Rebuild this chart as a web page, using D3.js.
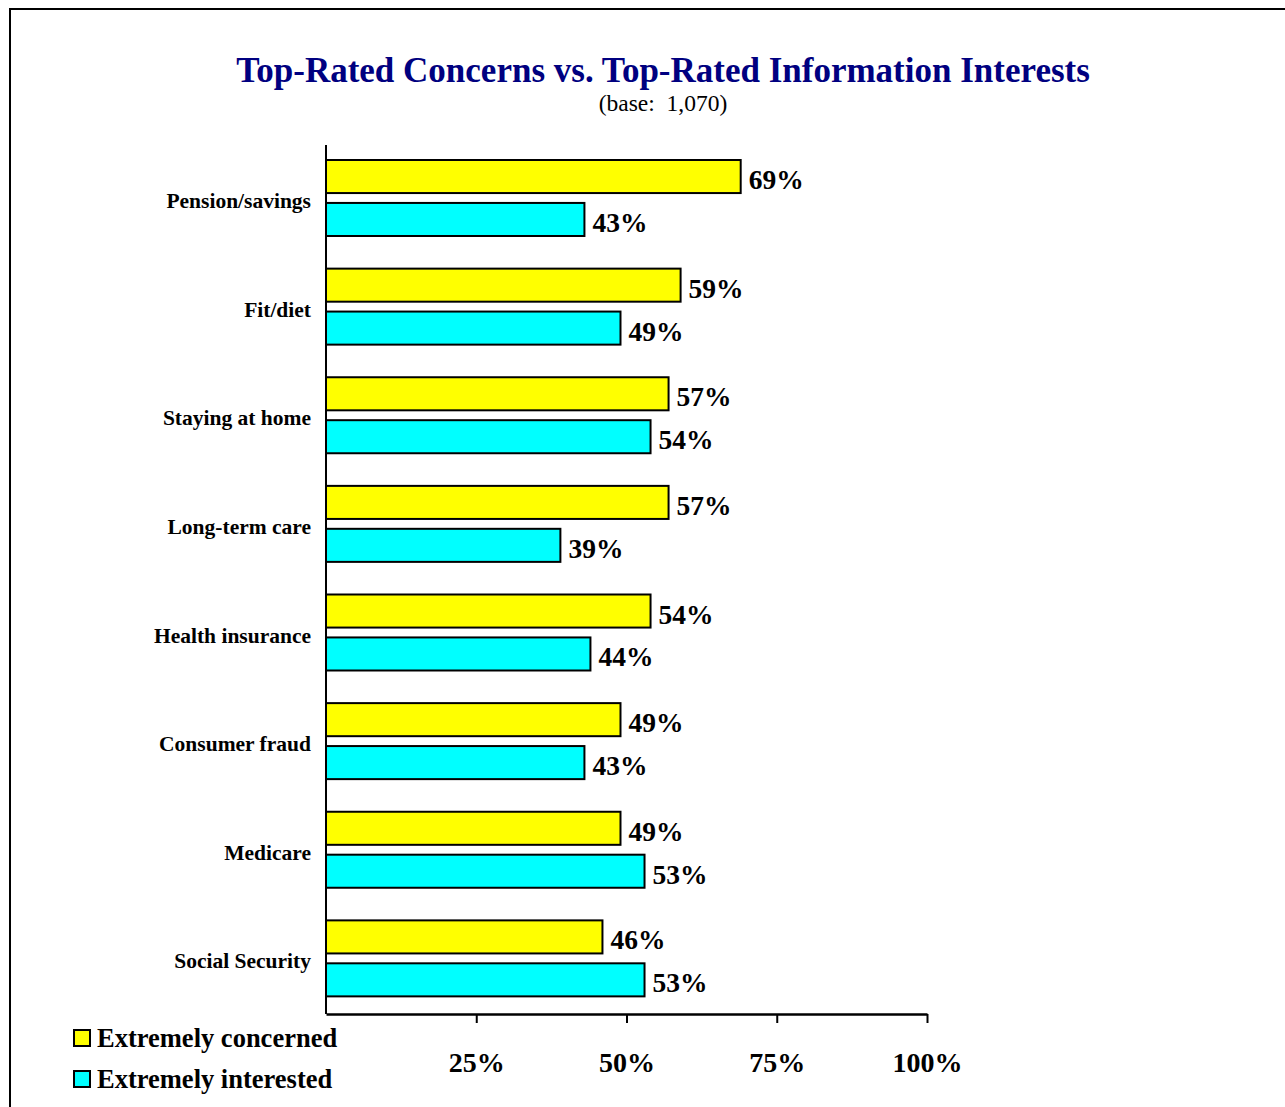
<!DOCTYPE html>
<html>
<head>
<meta charset="utf-8">
<script src="https://cdn.jsdelivr.net/npm/d3@7"></script>
<style>
  html, body { margin: 0; padding: 0; background: #fff; }
  svg { display: block; font-family: "Liberation Serif", "Times New Roman", serif; }
</style>
</head>
<body>
<svg id="chart" width="1285" height="1107"></svg>
<script>
const categories = ["Pension/savings", "Fit/diet", "Staying at home", "Long-term care",
                    "Health insurance", "Consumer fraud", "Medicare", "Social Security"];
const concerned = [69, 59, 57, 57, 54, 49, 49, 46];
const interested = [43, 49, 54, 39, 44, 43, 53, 53];
const tickValues = [25, 50, 75, 100];
const seriesNames = ["Extremely concerned", "Extremely interested"];
const seriesColors = ["#ffff00", "#00ffff"];

const svg = d3.select("#chart");

// outer frame
svg.append("rect")
  .attr("x", 10).attr("y", 9)
  .attr("width", 1290).attr("height", 1110)
  .attr("fill", "none").attr("stroke", "#000").attr("stroke-width", 2);

// title
svg.append("text")
  .attr("x", 663).attr("y", 82)
  .attr("text-anchor", "middle")
  .attr("font-size", 35).attr("font-weight", "bold")
  .attr("fill", "#000080")
  .text("Top-Rated Concerns vs. Top-Rated Information Interests");

svg.append("text")
  .attr("x", 663).attr("y", 111)
  .attr("text-anchor", "middle")
  .attr("font-size", 23.5)
  .attr("fill", "#000")
  .attr("xml:space", "preserve")
  .style("white-space", "pre")
  .text("(base:  1,070)");

const x = d3.scaleLinear().domain([0, 100]).range([326, 927]);
const y = d3.scaleBand().domain(categories).range([145, 1014]);
const sub = d3.scaleBand().domain([0, 1]).range([15, 15 + 76]).paddingInner(0.23);

const rows = categories.map((c, i) => ({ cat: c, vals: [concerned[i], interested[i]] }));

const groups = svg.append("g").selectAll("g")
  .data(rows).join("g")
  .attr("transform", d => `translate(0,${y(d.cat)})`);

groups.selectAll("rect")
  .data(d => d.vals.map((v, k) => ({ v, k })))
  .join("rect")
  .attr("x", x(0))
  .attr("y", d => sub(d.k))
  .attr("width", d => x(d.v) - x(0))
  .attr("height", sub.bandwidth())
  .attr("fill", d => seriesColors[d.k])
  .attr("stroke", "#000").attr("stroke-width", 2);

groups.selectAll("text.val")
  .data(d => d.vals.map((v, k) => ({ v, k })))
  .join("text")
  .attr("class", "val")
  .attr("x", d => x(d.v) + 8)
  .attr("y", d => sub(d.k) + sub.bandwidth() / 2 + 12.5)
  .attr("font-size", 27.5).attr("font-weight", "bold")
  .text(d => d.v + "%");

// category labels
groups.append("text")
  .attr("x", 311)
  .attr("y", 56 + 7)
  .attr("text-anchor", "end")
  .attr("font-size", 21.5).attr("font-weight", "bold")
  .text(d => d.cat);

// vertical axis line
svg.append("line")
  .attr("x1", x(0)).attr("x2", x(0))
  .attr("y1", 145).attr("y2", 1014)
  .attr("stroke", "#000").attr("stroke-width", 2);

// horizontal axis
const xAxis = svg.append("g")
  .attr("transform", "translate(0,1014)")
  .call(d3.axisBottom(x).tickValues(tickValues).tickSize(9).tickSizeOuter(0).tickFormat(d => d + "%"));
xAxis.select(".domain").attr("stroke", "#000").attr("stroke-width", 2.5);
xAxis.selectAll(".tick line").attr("stroke", "#000").attr("stroke-width", 2);
xAxis.selectAll(".tick text")
  .attr("y", 0).attr("dy", null)
  .attr("transform", "translate(0,58)")
  .attr("font-family", "Liberation Serif, serif")
  .attr("font-size", 28).attr("font-weight", "bold")
  .attr("fill", "#000");

// legend
const legend = svg.append("g").selectAll("g")
  .data(seriesNames).join("g")
  .attr("transform", (d, i) => `translate(74,${1030 + i * 41})`);
legend.append("rect")
  .attr("width", 16).attr("height", 16)
  .attr("fill", (d, i) => seriesColors[i])
  .attr("stroke", "#000").attr("stroke-width", 2);
legend.append("text")
  .attr("x", 23).attr("y", 17)
  .attr("font-size", 26.5).attr("font-weight", "bold")
  .text(d => d);
</script>
</body>
</html>
